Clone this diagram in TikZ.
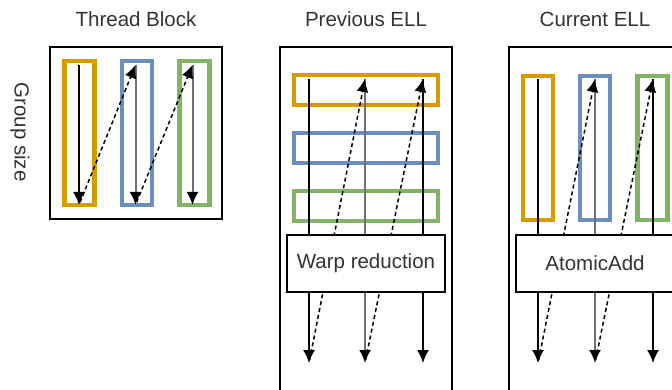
\documentclass[tikz,border=0pt]{standalone}
\usepackage{fontspec}
\setmainfont{Liberation Sans}
\usepackage{tikz}
\usetikzlibrary{arrows.meta, positioning}

\definecolor{laneorange}{HTML}{D79B00}
\definecolor{laneblue}{HTML}{6C8EBF}
\definecolor{lanegreen}{HTML}{82B366}
\definecolor{txtgray}{HTML}{333333}
\definecolor{linegray}{HTML}{707070}

\begin{document}
\begin{tikzpicture}[x=1pt, y=-1pt,
	every node/.style={inner sep=0pt, outer sep=0pt},
	panel/.style={draw, line width=1.2pt, minimum width=172pt},
	lane/.style={draw, line width=4.5pt, minimum width=30pt, minimum height=144pt},
	row/.style={draw, line width=4.5pt, minimum width=144pt, minimum height=30pt},
	opbox/.style={draw, fill=white, line width=1.2pt, minimum width=158pt, minimum height=57pt, text=txtgray, font=\fontsize{20.5}{24}\selectfont},
	heading/.style={text=txtgray, font=\fontsize{20.5}{24}\selectfont},
	tip/.style={-{Latex[length=13pt, width=12pt, color=black]}},
	flow/.style={tip, line width=1.5pt},
	flowgray/.style={tip, line width=2pt, draw=linegray},
	hop/.style={tip, line width=1.5pt, dash pattern=on 4pt off 3pt, shorten <=3pt}]

	\useasboundingbox (0,0) rectangle (672,390);
	\clip (0,0) rectangle (672,390);

	% thread block
	\node [panel, minimum height=172pt] (tb) at (136,133) {};
	\node [heading, above=20pt of tb.north] (tbtitle) {Thread Block};
	\node [heading, rotate=-90] (gs) at (20,132) {Group size};

	\node [lane, draw=laneorange] (tb1) at (79.5,133) {};
	\node [lane, draw=laneblue, right=27.5pt of tb1] (tb2) {};
	\node [lane, draw=lanegreen, right=27.5pt of tb2] (tb3) {};

	\coordinate (tb1t) at (79,65);  \coordinate (tb1b) at (79,205);
	\coordinate (tb2t) at (135.5,65); \coordinate (tb2b) at (135.5,205);
	\coordinate (tb3t) at (192.5,65); \coordinate (tb3b) at (192.5,205);

	\draw [flow] (tb1t) -- (tb1b);
	\draw [flowgray] (tb2t) -- (tb2b);
	\draw [flowgray] (tb3t) -- (tb3b);
	\draw [hop] (tb1b) -- (tb2t);
	\draw [hop] (tb2b) -- (tb3t);

	% previous ELL
	\node [panel, minimum height=363pt] (pe) at (366,228.5) {};
	\node [heading, above=20pt of pe.north] (petitle) {Previous ELL};

	\node [row, draw=laneorange] (pe1) at (366,90) {};
	\node [row, draw=laneblue, below=28pt of pe1] (pe2) {};
	\node [row, draw=lanegreen, below=28pt of pe2] (pe3) {};

	\coordinate (pe1t) at (309,79);  \coordinate (pe1b) at (309,363);
	\coordinate (pe2t) at (365,79);  \coordinate (pe2b) at (365,363);
	\coordinate (pe3t) at (423,79);  \coordinate (pe3b) at (423,363);

	\draw [flow] (pe1t) -- (pe1b);
	\draw [flowgray] (pe2t) -- (pe2b);
	\draw [flow] (pe3t) -- (pe3b);
	\draw [hop] (pe1b) -- (pe2t);
	\draw [hop] (pe2b) -- (pe3t);

	\node [opbox] (warp) at (366,263.5) {Warp reduction};

	% current ELL
	\node [panel, minimum height=363pt] (ce) at (595,228.5) {};
	\node [heading, above=20pt of ce.north] (cetitle) {Current ELL};

	\node [lane, draw=laneorange] (ce1) at (538,148) {};
	\node [lane, draw=laneblue, right=27pt of ce1] (ce2) {};
	\node [lane, draw=lanegreen, right=27.5pt of ce2] (ce3) {};

	\coordinate (ce1t) at (538,79);  \coordinate (ce1b) at (538,363);
	\coordinate (ce2t) at (595,79);  \coordinate (ce2b) at (595,363);
	\coordinate (ce3t) at (653,79);  \coordinate (ce3b) at (653,363);

	\draw [flow] (ce1t) -- (ce1b);
	\draw [flowgray] (ce2t) -- (ce2b);
	\draw [flow] (ce3t) -- (ce3b);
	\draw [hop] (ce1b) -- (ce2t);
	\draw [hop] (ce2b) -- (ce3t);

	\node [opbox] (atomic) at (595,263.5) {AtomicAdd};

\end{tikzpicture}
\end{document}
